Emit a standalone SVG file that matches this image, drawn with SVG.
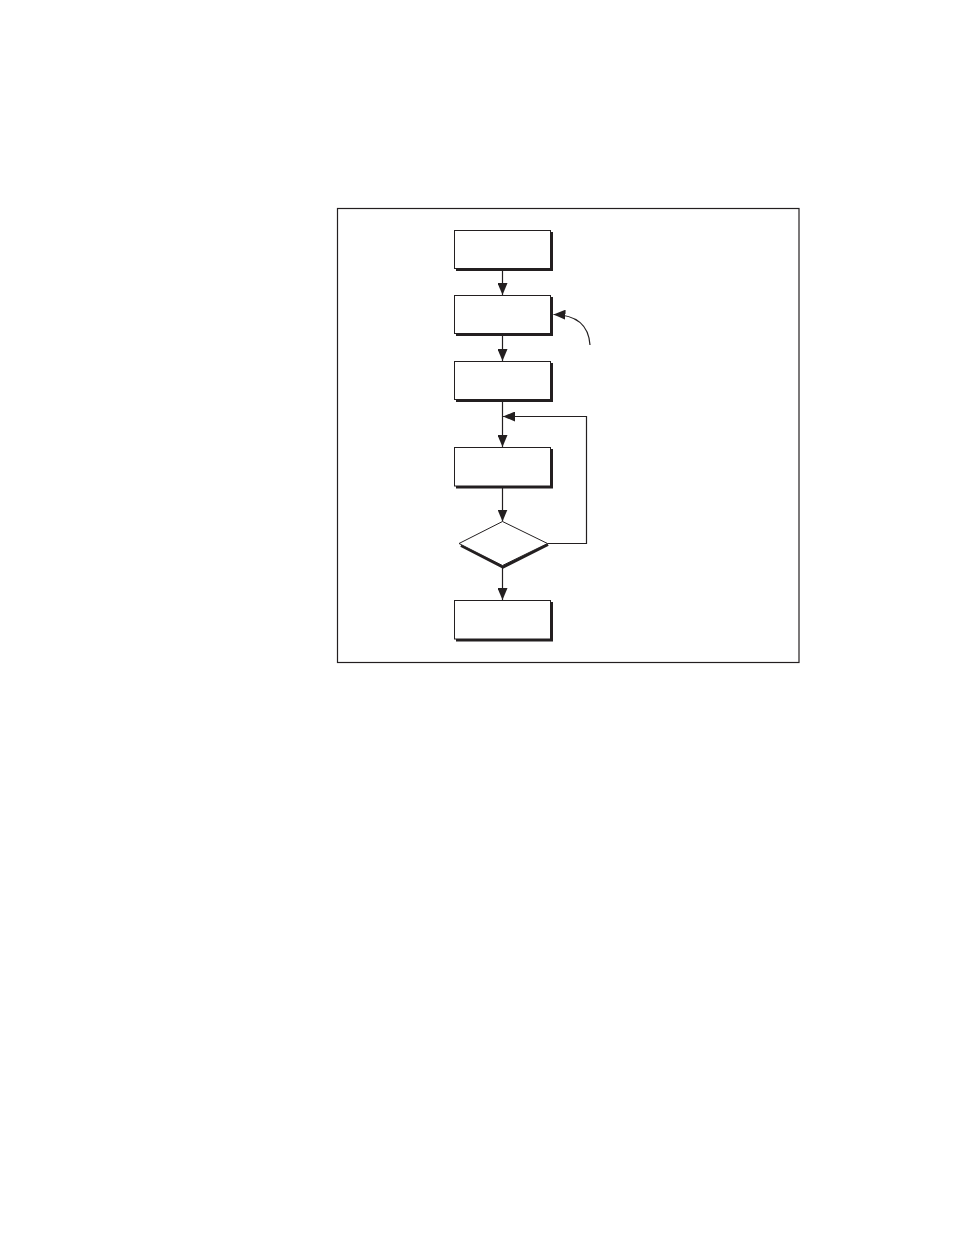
<svg xmlns="http://www.w3.org/2000/svg" width="954" height="1235" viewBox="0 0 954 1235">
<style>
.box{fill:#fff;stroke:#231f20;stroke-width:1}
.sh{fill:none;stroke:#231f20;stroke-width:3}
.ln{fill:none;stroke:#231f20;stroke-width:1.2}
</style>
<defs>
<marker id="ah" viewBox="0 0 12 10" refX="12" refY="5" markerWidth="12" markerHeight="10" markerUnits="userSpaceOnUse" orient="auto">
<path d="M0,0 L12,5 L0,10 Z" fill="#231f20"/>
</marker>
</defs>
<rect width="954" height="1235" fill="#fff"/>
<rect id="frame" x="337.5" y="208.5" width="461.5" height="454" fill="none" stroke="#231f20" stroke-width="1.2"/>
<g id="connectors">
<line class="ln" x1="502.5" y1="269" x2="502.5" y2="295" marker-end="url(#ah)"/>
<line class="ln" x1="502.5" y1="335" x2="502.5" y2="361" marker-end="url(#ah)"/>
<line class="ln" x1="502.5" y1="401" x2="502.5" y2="447" marker-end="url(#ah)"/>
<line class="ln" x1="502.5" y1="487" x2="502.5" y2="521.5" marker-end="url(#ah)"/>
<line class="ln" x1="502.5" y1="566" x2="502.5" y2="600" marker-end="url(#ah)"/>
<polyline class="ln" points="547.5,543.5 586.5,543.5 586.5,416.5 503,416.5" marker-end="url(#ah)"/>
<path class="ln" d="M590,345 Q588,315 553.5,314.5" marker-end="url(#ah)"/>
</g>
<g id="n1"><polyline class="sh" points="551.5,232 551.5,269.5 456,269.5"/><rect class="box" x="454.5" y="230.5" width="96" height="38"/></g>
<g id="n2"><polyline class="sh" points="551.5,297 551.5,334.5 456,334.5"/><rect class="box" x="454.5" y="295.5" width="96" height="38"/></g>
<g id="n3"><polyline class="sh" points="551.5,363 551.5,400.5 456,400.5"/><rect class="box" x="454.5" y="361.5" width="96" height="38"/></g>
<g id="n4"><polyline class="sh" points="551.5,449 551.5,487 456,487"/><rect class="box" x="454.5" y="447.5" width="96" height="38.5"/></g>
<g id="n5"><polyline class="sh" points="551.5,602 551.5,640 456,640"/><rect class="box" x="454.5" y="600.5" width="96" height="38.5"/></g>
<g id="d1"><polyline class="sh" points="461,545.5 503,567 548,544.5"/><polygon class="box" points="502.5,521.5 547.5,543.5 502.5,565.5 459,543.5"/></g>
</svg>
